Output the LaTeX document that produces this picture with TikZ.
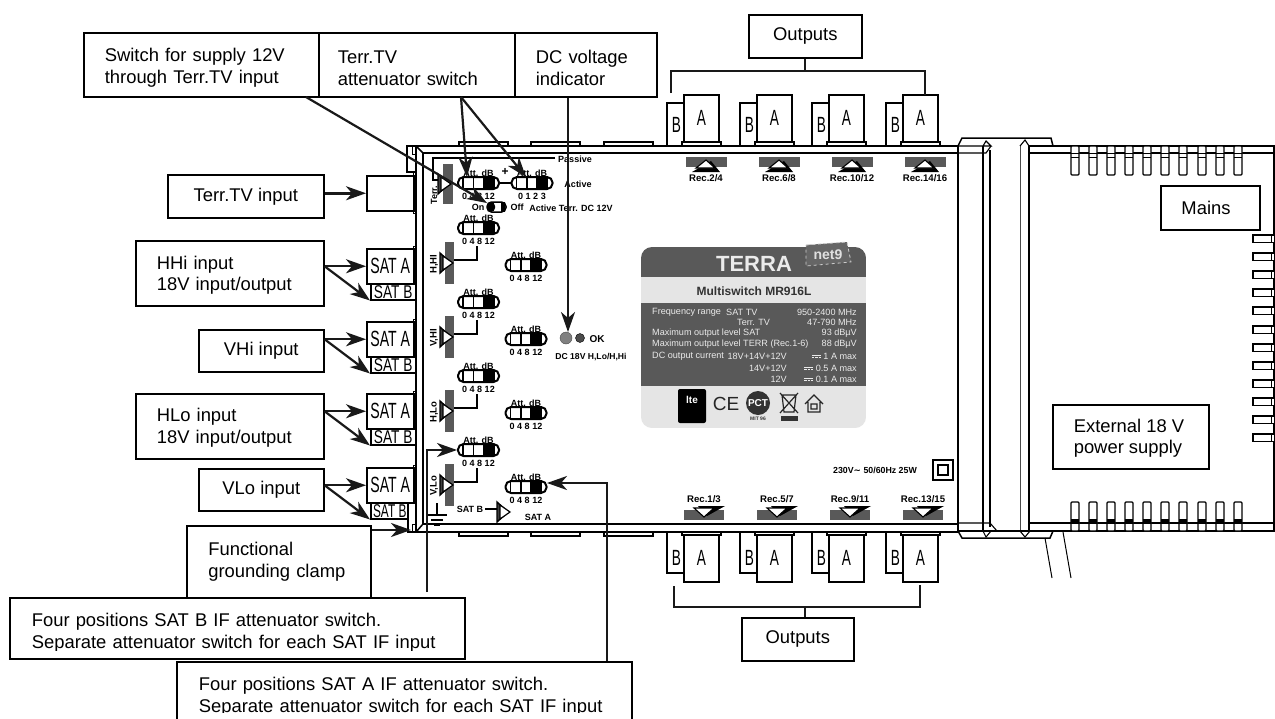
\documentclass[tikz,border=0pt]{standalone}
\usepackage{fontspec}
\setmainfont{Liberation Sans}
\newfontfamily\symfont{DejaVu Sans}
\usetikzlibrary{arrows.meta, calc}
\tikzstyle{wall}=[draw=black, line width=1.5pt]
\tikzstyle{callout}=[draw=black, fill=white, line width=1.6pt, anchor=north west, align=left,
  font=\fontsize{18.4}{21.5}\selectfont, inner ysep=0pt]
\tikzstyle{plain}=[font=\fontsize{18.4}{21.5}\selectfont, align=center, inner sep=0pt]
\tikzstyle{arrow}=[-{Stealth[length=20pt,width=14pt,inset=6pt]}, line width=2.2pt, draw=black!90]
\tikzstyle{line}=[line width=1.8pt, draw=black!90]
\tikzstyle{conn}=[draw=black, fill=white, line width=1.5pt]
\tikzstyle{connLabel}=[font=\fontsize{22}{22}\selectfont, inner sep=0pt]
\tikzstyle{satbox}=[draw=black, fill=white, line width=1.5pt, anchor=north west, inner sep=0pt]
\tikzstyle{smallBold}=[font=\fontsize{9}{10}\selectfont\bfseries, inner sep=0pt]
\tikzstyle{recText}=[font=\fontsize{9.6}{10}\selectfont\bfseries, inner sep=0pt]
\tikzstyle{panelText}=[font=\fontsize{9.1}{10}\selectfont, text=black!8, inner sep=0pt]
\tikzstyle{grayBar}=[fill=black!65]
\tikzstyle{wire}=[draw=black, line width=1.6pt]
\colorlet{panelDark}{black!65}
\colorlet{panelLight}{black!10}
\newcommand{\topgap}[1]{\rule{0pt}{#1pt}}
\newcommand{\dcSym}{\makebox[9pt][l]{\rule[3.6pt]{9pt}{.9pt}\hspace{-9pt}\rule[1.5pt]{2.2pt}{.9pt}\hspace{1.2pt}\rule[1.5pt]{2.2pt}{.9pt}\hspace{1.2pt}\rule[1.5pt]{2.2pt}{.9pt}}}
\newcommand{\attSwitch}[4]{
  \node[draw=black, fill=white, line width=2pt, rounded corners=5.5pt, minimum width=41pt,
    minimum height=12pt, inner sep=0pt] (#1) at (#2,#3) {};
  \fill (#2+5,#3-6) rectangle (#2+16,#3+6);
  \draw[line width=1.2pt] (#2-15.5,#3-6) -- (#2-15.5,#3+6) (#2-5,#3-6) -- (#2-5,#3+6) (#2+5,#3-6) -- (#2+5,#3+6);
  \node[smallBold] (#1att) at (#2,#3-10) {Att. dB};
  \node[smallBold] (#1num) at (#2,#3+13) {#4};
}
\newcommand{\amp}[2]{
  \draw[line width=1.4pt, fill=black!75] (#1-3,#2-10) -- (#1+8,#2) -- (#1-3,#2+10) -- cycle;
  \draw[line width=1.2pt, fill=white] (#1,#2-7) -- (#1+10,#2) -- (#1,#2+7) -- cycle;
}
\begin{document}
\begin{tikzpicture}[x=1pt,y=-1pt]
  \clip (0,0) rectangle (1275,718);
  \fill[white] (0,0) rectangle (1275,718);

  % housing
  \draw[wall] (958,146) -- (416,146) -- (416,532) -- (958,532);
  \draw[wall] (958,153) -- (423,153) -- (423,524) -- (958,524);
  \draw[wall] (416,146) -- (423,153) (416,532) -- (423,524);
  \draw[wall] (416,172) -- (407,172) -- (407,146) -- (416,146);
  \draw[line width=1pt] (412,146) -- (412,154) -- (416,154);
  \foreach \x in {459,531,604} {
    \draw[line width=1.1pt] (\x,146) -- (\x,142) -- (\x+49,142) -- (\x+49,146);
    \draw[line width=1.1pt] (\x,532) -- (\x,536) -- (\x+49,536) -- (\x+49,532);
  }

  % band and supply
  \draw[wall] (958,146) -- (962,138) -- (1051,138) -- (1053,146);
  \draw[wall] (958,531) -- (962,538) -- (1050,538) -- (1053,531);
  \draw[wall] (958,138) ++(0,8) -- (958,531);
  \draw[line width=1.2pt] (983,146) -- (983,531);
  \draw[line width=2.6pt] (990,150) -- (990,527);
  \draw[line width=.8pt, draw=black!70] (1020,146) -- (1020,531);
  \draw[line width=1.8pt] (1029,146) -- (1029,531);
  \draw[line width=1.1pt] (983,146) -- (986,141) -- (991,146) -- (958,146) (1020,146) -- (1025,140) -- (1029,146);
  \draw[line width=1.1pt] (958,153) -- (986,153) -- (991,146);
  \draw[line width=1.1pt] (983,531) -- (986,537) -- (991,531) (1020,531) -- (1025,537) -- (1030,531);
  \draw[line width=1.1pt] (958,523) -- (990,523) -- (997,531);
  \draw[wall] (958,531) -- (1030,531);
  \draw[wall] (1029,146) -- (1275,146) (1029,153) -- (1275,153) (1274,146) -- (1274,531);
  \draw[wall] (1029,523) -- (1275,523) (1029,531) -- (1275,531);
  \draw[line width=1pt] (1045,538) -- (1052,578) (1063,532) -- (1071,578);
  \foreach \x in {1071,1089,1107,1125,1143,1161,1179,1198,1216,1234} {
    \draw[line width=1.2pt, fill=white, rounded corners=1pt] (\x,146) rectangle (\x+8,175);
    \draw[line width=1pt] (\x,153) -- (\x+8,153) (\x,157) -- (\x+8,157);
    \draw[line width=1.2pt, fill=white, rounded corners=1pt] (\x,502) rectangle (\x+8,531);
    \fill (\x,519) rectangle (\x+8,524);
    \draw[line width=1pt] (\x,523) -- (\x+8,523);
  }
  \foreach \y in {235,253,271,289,307,326,344,362,380,398,416,434} {
    \draw[line width=1.2pt, fill=white] (1274,\y) -- (1253,\y) -- (1253,\y+7.5) -- (1274,\y+7.5);
    \draw[line width=1pt] (1271,\y) -- (1271,\y+7.5);
  }

  % outputs
  \foreach \x/\i in {684/1,757/2,829/3,903/4} {
    \draw[conn] (\x-17,146) -- (\x-17,103) -- (\x,103);
    \draw[conn] (\x,142) rectangle (\x+35,95);
    \draw[conn] (\x-2,146) rectangle (\x+37,142);
    \node[connLabel] (topA\i) at (\x+17.5,118) {\scalebox{.62}[1]{A}};
    \node[connLabel] (topB\i) at (\x-7.5,125) {\scalebox{.62}[1]{B}};
    \draw[conn] (\x-17,532) -- (\x-17,573) -- (\x,573);
    \draw[conn] (\x,535) rectangle (\x+35,582);
    \draw[conn] (\x-2,532) rectangle (\x+37,535);
    \node[connLabel] (botA\i) at (\x+17.5,558) {\scalebox{.62}[1]{A}};
    \node[connLabel] (botB\i) at (\x-7.5,558) {\scalebox{.62}[1]{B}};
  }
  \foreach \x/\lab in {706/Rec.2\slash 4,779/Rec.6\slash 8,852/Rec.10\slash 12,925/Rec.14\slash 16} {
    \fill[grayBar] (\x-20,157) rectangle (\x+21,167);
    \fill (\x+5,161) -- (\x+14,172) -- (\x-14,172) -- cycle;
    \draw[line width=1.1pt, fill=white] (\x,160) -- (\x+9,168) -- (\x-10,168) -- cycle;
    \node[recText] at (\x,178) {\lab};
  }
  \foreach \x/\lab in {704/Rec.1\slash 3,777/Rec.5\slash 7,850/Rec.9\slash 11,923/Rec.13\slash 15} {
    \fill[grayBar] (\x-20,510) rectangle (\x+20,520);
    \fill (\x+3,516) -- (\x+21,506) -- (\x-6,506) -- cycle;
    \draw[line width=1.1pt, fill=white] (\x,517) -- (\x+10,508) -- (\x-10,508) -- cycle;
    \node[recText] at (\x,499) {\lab};
  }

  % inputs
  \node[satbox, minimum width=47pt, minimum height=35pt] (terrIn) at (366,175) {};
  \draw[line width=1pt] (413,171) rectangle (416,213);
  \foreach \n/\y/\w/\s in {hhi/248/45/.74,vhi/321/45/.74,hlo/393/45/.74,vlo/467/38/.64} {
    \draw[line width=1pt] (413,\y-2) rectangle (416,\y+36);
    \node[satbox, minimum width=47pt, minimum height=35pt,
      font=\fontsize{22}{22}\selectfont] (\n A) at (366,\y) {\scalebox{.64}[1]{SAT A}};
    \node[satbox, minimum width=\w pt, minimum height=16pt,
      font=\fontsize{18.5}{18.5}\selectfont] (\n B) at (370,\y+35) {\scalebox{\s}[1]{SAT B}};
  }
  \draw[line width=1.2pt, fill=white] (408,503) rectangle (416,532);
  \draw[line width=1pt] (412,524) rectangle (416,532);

  % switches and amplifiers
  \fill[grayBar] (443,164) rectangle (453,204);
  \draw[wire] (555,158) -- (433,158) -- (433,180) -- (440,180);
  \amp{441}{184}
  \node[smallBold, rotate=90] (terrAmp) at (434,195) {Terr.};
  \foreach \n/\lab/\y in {hhi/{H,HI}/263,vhi/{V,HI}/337,hlo/{H,Lo}/411,vlo/{V,Lo}/485} {
    \fill[grayBar] (445,\y-21) rectangle (454,\y+21);
    \draw[wire] (454,\y-3) -- (477,\y-3) -- (477,\y-17);
    \amp{443}{\y}
    \node[smallBold, rotate=90, font=\fontsize{9.5}{10}\selectfont\bfseries] (\n Amp) at (434,\y+1) {\lab};
  }
  \attSwitch{swTerrA}{478.5}{183}{0 4 8 12}
  \attSwitch{swTerrB}{532}{183}{0 1 2 3}
  \draw[wire] (499,183) -- (512,183);
  \node[font=\fontsize{12}{12}\selectfont\bfseries, inner sep=0pt] (plus) at (505,172) {+};
  \node[smallBold] (passive) at (575,159) {Passive};
  \node[smallBold] (active) at (578,184) {Active};
  \attSwitch{swHhiB}{478.5}{228}{0 4 8 12}
  \attSwitch{swHhiA}{526}{265}{0 4 8 12}
  \attSwitch{swVhiB}{478.5}{302}{0 4 8 12}
  \attSwitch{swVhiA}{526}{339}{0 4 8 12}
  \attSwitch{swHloB}{478.5}{376}{0 4 8 12}
  \attSwitch{swHloA}{526}{413}{0 4 8 12}
  \attSwitch{swVloB}{478.5}{450}{0 4 8 12}
  \attSwitch{swVloA}{526}{487}{0 4 8 12}
  \node[draw=black, fill=white, line width=1.5pt, rounded corners=4.5pt, minimum width=19pt,
    minimum height=10pt, inner sep=0pt] (swPower) at (496.5,207) {};
  \fill[rounded corners=4pt] (487,202) rectangle (495,212);
  \fill (501,202) rectangle (505,212);
  \node[smallBold] (powerOn) at (478,207) {On};
  \node[smallBold] (powerOff) at (517,207) {Off};
  \node[smallBold] (powerText) at (571,208) {Active Terr. DC 12V};

  % ground and SAT selector
  \draw[line width=1.6pt] (437,503) -- (437,515) (428,515) -- (447,515) (431,520) -- (443,520) (434,525) -- (440,525);
  \node[smallBold] (selB) at (470,509) {SAT B};
  \draw[wire] (485,509) -- (498,509);
  \amp{500}{512}
  \node[smallBold] (selA) at (538,517) {SAT A};

  % DC indicator
  \fill[black!50, draw=black!70] (566,338) circle (6pt);
  \fill[black!70, draw=black] (580,338) circle (4.5pt);
  \node[smallBold, font=\fontsize{10}{10}\selectfont\bfseries] (ledOk) at (597,339) {OK};
  \node[smallBold, font=\fontsize{8.6}{10}\selectfont\bfseries] (ledText) at (591,357) {DC 18V H,Lo/H,Hi};

  % label plate
  \begin{scope}
    \clip[rounded corners=11pt] (641,247) rectangle (866,428);
    \fill[panelDark] (641,247) rectangle (866,277);
    \fill[panelLight] (641,277) rectangle (866,303);
    \fill[panelDark] (641,303) rectangle (866,386);
    \fill[panelLight] (641,386) rectangle (866,428);
  \end{scope}
  \node[font=\fontsize{22}{22}\selectfont\bfseries, text=black!8, inner sep=0pt] (brand) at (754,264) {TERRA};
  \fill[black!60, draw=black!20, dashed, line width=.8pt] (806,245) -- (847,242) -- (851,262) -- (806,266) -- cycle;
  \node[font=\fontsize{14}{14}\selectfont\bfseries, text=black!12, inner sep=0pt] (netLogo) at (828,255) {net9};
  \node[font=\fontsize{12}{12}\selectfont\bfseries, text=black!80, inner sep=0pt] (model) at (754,291) {Multiswitch MR916L};
  \foreach \n/\y/\lab in {a/312/Frequency range, c/333/Maximum output level SAT, d/344/Maximum output level TERR (Rec.1-6), e/356/DC output current}
    \node[panelText, anchor=west] (pl\n) at (652,\y) {\lab};
  \node[panelText, anchor=west] (plb) at (726,312) {SAT TV};
  \node[panelText, anchor=west] (plf) at (737,322) {Terr. TV};
  \foreach \n/\y/\lab in {e/356/18V+14V+12V, f/368/14V+12V, g/379/12V}
    \node[panelText, anchor=east] (pm\n) at (787,\y) {\lab};
  \foreach \n/\y/\lab in {a/312/950-2400 MHz, b/322/47-790 MHz, c/333/93 dBµV, d/344/88 dBµV, e/356/{\dcSym\ 1 A max}, f/368/{\dcSym\ 0.5 A max}, g/379/{\dcSym\ 0.1 A max}}
    \node[panelText, anchor=east] (pr\n) at (857,\y) {\lab};
  \fill[black, rounded corners=2pt] (678,389) rectangle (706,423);
  \node[font=\fontsize{10}{10}\selectfont\bfseries, text=white, inner sep=0pt] (iconLte) at (692,400) {lte};
  \node[font=\fontsize{19}{19}\selectfont, inner sep=0pt, text=black!85] (iconCe) at (726,404) {CE};
  \fill[black!80] (758,403) circle (12pt);
  \node[font=\fontsize{10}{10}\selectfont\bfseries, text=white, inner sep=0pt] (iconPct) at (758,403) {PCT};
  \node[font=\fontsize{5}{5}\selectfont\bfseries, text=black!80, inner sep=0pt] (iconMit) at (758,419) {MIT 96};
  \draw[line width=1.2pt, black!85] (782,395) -- (796,395) -- (794,412) -- (784,412) -- cycle (780,393) -- (798,413) (798,393) -- (780,413);
  \fill[black!80] (781,416) rectangle (798,421);
  \draw[line width=1.1pt, black!85] (805,404) -- (814,395) -- (823,404) (808,402) -- (808,412) -- (820,412) -- (820,402) (811,404) rectangle (817,409);
  \node[recText, font=\fontsize{8.8}{10}\selectfont\bfseries] (ratings) at (875,470) {230V{\symfont ∼} 50/60Hz 25W};
  \draw[line width=1.5pt] (933,460) rectangle (953,480);
  \draw[line width=1.5pt] (938,465) rectangle (948,475);

  % callouts
  \node[callout, minimum width=235pt, minimum height=64pt, text width=193pt, inner xsep=21pt] (boxSwitch) at (83,32) {\topgap{19.5}Switch for supply 12V\\through Terr.TV input};
  \node[callout, minimum width=196pt, minimum height=64pt, text width=158pt, inner xsep=19pt] (boxTerr) at (318,32) {\topgap{19.5}Terr.TV\\attenuator switch};
  \node[callout, minimum width=142pt, minimum height=64pt, text width=100pt, inner xsep=21pt] (boxDc) at (514,32) {\topgap{19.5}DC voltage\\indicator};
  \node[callout, align=center, minimum width=113pt, minimum height=43pt] (boxOutTop) at (748,14) {Outputs};
  \node[callout, align=center, minimum width=112pt, minimum height=43pt] (boxOutBot) at (741,617) {Outputs};
  \node[callout, align=center, minimum width=156pt, minimum height=43pt] (boxTerrIn) at (167,174) {Terr.TV input};
  \node[callout, minimum width=188pt, minimum height=65pt, text width=168pt, inner xsep=10pt, align=left] (boxHhi) at (135,240) {\topgap{17.5}\hspace{11pt}HHi input\\\hspace{11pt}18V input/output};
  \node[callout, align=center, minimum width=125pt, minimum height=42pt] (boxVhi) at (198,329) {VHi input};
  \node[callout, minimum width=188pt, minimum height=65pt, text width=168pt, inner xsep=10pt] (boxHlo) at (135,393) {\topgap{16}\hspace{11pt}HLo input\\\hspace{11pt}18V input/output};
  \node[callout, align=center, minimum width=125pt, minimum height=42pt] (boxVlo) at (198,468) {VLo input};
  \node[callout, minimum width=184pt, minimum height=72pt, text width=163pt, inner xsep=10.5pt] (boxGround) at (186,525) {\hspace{11pt}Functional\\\hspace{11pt}grounding clamp};
  \node[callout, minimum width=455pt, minimum height=61pt, text width=433pt, inner xsep=11pt] (boxSatB) at (9,597) {\topgap{22}\hspace{11pt}Four positions SAT B IF attenuator switch.\\\hspace{11pt}Separate attenuator switch for each SAT IF input};
  \fill[white] (10.5,650.5) rectangle (462.5,656.5);
  \node[callout, minimum width=455pt, minimum height=70pt, text width=433pt, inner xsep=11pt, anchor=north west] (boxSatA) at (176,661) {\hspace{11pt}Four positions SAT A IF attenuator switch.\\\hspace{11pt}Separate attenuator switch for each SAT IF input};
  \fill[white] (178,712.5) rectangle (629,718);
  \node[plain] (boxMains) at (1206,208) {Mains};
  \draw[line width=1.6pt] (1161,186) rectangle (1260,230);
  \node[plain, align=left] (boxExt) at (1129,438) {External 18 V\\power supply};
  \draw[line width=1.6pt] (1053,405) rectangle (1209,469);

  % brackets
  \coordinate (topLeft) at (671,71);
  \coordinate (topLeftEnd) at (671,93);
  \coordinate (topRight) at (925,71);
  \coordinate (topRightEnd) at (925,95);
  \draw[line] (topLeftEnd) -- (topLeft) -- (topRight) -- (topRightEnd);
  \draw[line] (boxOutTop.south) -- (boxOutTop.south |- topLeft);
  \coordinate (botLeft) at (674,607);
  \coordinate (botLeftEnd) at (674,586);
  \coordinate (botRight) at (920,607);
  \coordinate (botRightEnd) at (920,585);
  \coordinate (botStem) at (805,607);
  \draw[line] (botLeftEnd) -- (botLeft) -- (botRight) -- (botRightEnd);
  \draw[line] (botStem) -- (botStem |- boxOutBot.north);

  % connectors
  \coordinate (fromSwitch) at (306,97);
  \coordinate (toPower) at (487,203);
  \coordinate (fromTerr) at (461,97);
  \coordinate (toTerrA) at (467,177);
  \coordinate (toTerrB) at (526,177);
  \draw[arrow] (fromSwitch) -- (toPower);
  \draw[arrow] (fromTerr) -- (toTerrA);
  \draw[arrow] (fromTerr) -- (toTerrB);
  \coordinate (toLed) at (568,332);
  \draw[arrow, line width=1.6pt] (toLed |- boxDc.south) -- (toLed);
  \draw[arrow, line width=2.6pt] (boxTerrIn.east |- terrIn.west) -- (terrIn.west);
  \foreach \n in {hhi,vhi,hlo,vlo} {
    \draw[arrow] (boxHhi.east |- \n A.west) -- (\n A.west);
    \draw[arrow] (boxHhi.east |- \n A.west) -- (\n B.south west);
  }
  \coordinate (clamp) at (411,530);
  \draw[arrow] (boxGround.east |- clamp) -- (clamp);
  \coordinate (satBFoot) at (427,592);
  \coordinate (satBBend) at (427,450);
  \draw[arrow] (satBFoot) -- (satBBend) -- (swVloB.west);
  \coordinate (satAFoot) at (607,661);
  \coordinate (satABend) at (607,483);
  \coordinate (satATip) at (547,483);
  \draw[arrow] (satAFoot) -- (satABend) -- (satATip);
\end{tikzpicture}
\end{document}
